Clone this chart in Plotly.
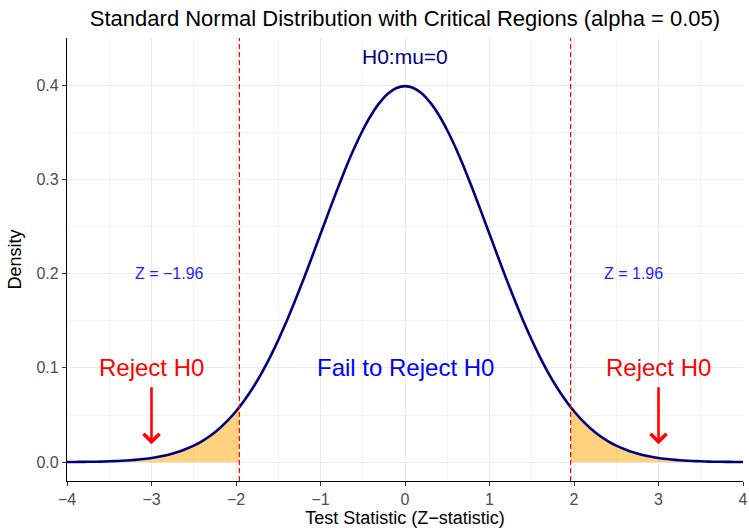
import plotly.graph_objects as go

# Density values of the curve
x_vals = [-4.0, -3.9, -3.8, -3.7, -3.6, -3.5, -3.4, -3.3, -3.2, -3.1, -3.0, -2.9, -2.8, -2.7,
          -2.6, -2.5, -2.4, -2.3, -2.2, -2.1, -2.0, -1.96, -1.9, -1.8, -1.7, -1.6, -1.5, -1.4,
          -1.3, -1.2, -1.1, -1.0, -0.9, -0.8, -0.7, -0.6, -0.5, -0.4, -0.3, -0.2, -0.1, 0.0,
          0.1, 0.2, 0.3, 0.4, 0.5, 0.6, 0.7, 0.8, 0.9, 1.0, 1.1, 1.2, 1.3, 1.4, 1.5, 1.6, 1.7,
          1.8, 1.9, 1.96, 2.0, 2.1, 2.2, 2.3, 2.4, 2.5, 2.6, 2.7, 2.8, 2.9, 3.0, 3.1, 3.2, 3.3,
          3.4, 3.5, 3.6, 3.7, 3.8, 3.9, 4.0]
dens = [0.0001, 0.0002, 0.0003, 0.0004, 0.0006, 0.0009, 0.0012, 0.0017, 0.0024, 0.0033,
        0.0044, 0.0060, 0.0079, 0.0104, 0.0136, 0.0175, 0.0224, 0.0283, 0.0355, 0.0440,
        0.0540, 0.0584, 0.0656, 0.0790, 0.0940, 0.1109, 0.1295, 0.1497, 0.1714, 0.1942,
        0.2179, 0.2420, 0.2661, 0.2897, 0.3123, 0.3332, 0.3521, 0.3683, 0.3814, 0.3910,
        0.3970, 0.3989,
        0.3970, 0.3910, 0.3814, 0.3683, 0.3521, 0.3332, 0.3123, 0.2897, 0.2661, 0.2420,
        0.2179, 0.1942, 0.1714, 0.1497, 0.1295, 0.1109, 0.0940, 0.0790, 0.0656, 0.0584,
        0.0540, 0.0440, 0.0355, 0.0283, 0.0224, 0.0175, 0.0136, 0.0104, 0.0079, 0.0060,
        0.0044, 0.0033, 0.0024, 0.0017, 0.0012, 0.0009, 0.0006, 0.0004, 0.0003, 0.0002,
        0.0001]
crit = 1.96
x_ticks = [-4, -3, -2, -1, 0, 1, 2, 3, 4]
x_tick_labels = ["\u22124", "\u22123", "\u22122", "\u22121", "0", "1", "2", "3", "4"]
y_ticks = [0.0, 0.1, 0.2, 0.3, 0.4]
y_tick_labels = ["0.0", "0.1", "0.2", "0.3", "0.4"]

FONT = "Liberation Sans, Arial, sans-serif"

left = [(x, d) for x, d in zip(x_vals, dens) if x <= -crit]
right = [(x, d) for x, d in zip(x_vals, dens) if x >= crit]

fig = go.Figure()
fill = "rgba(255,165,0,0.5)"
for part in (left, right):
    fig.add_trace(go.Scatter(x=[p[0] for p in part], y=[p[1] for p in part], mode="lines",
                             line=dict(width=0), fill="tozeroy",
                             fillcolor=fill, hoverinfo="skip", showlegend=False))
fig.add_trace(go.Scatter(x=x_vals, y=dens, mode="lines",
                         line=dict(color="#000080", width=2.6, shape="spline", smoothing=0.5),
                         showlegend=False))

for c in (-crit, crit):
    fig.add_shape(type="line", x0=c, x1=c, xref="x", y0=0, y1=1, yref="y domain",
                  line=dict(color="#FF0000", width=1.2, dash="5px,3px"))

def ann(x, y, text, color, size):
    fig.add_annotation(x=x, y=y, text=text, showarrow=False,
                       font=dict(color=color, size=size, family=FONT))

ann(0, 0.43, "H0:mu=0", "#000080", 21)
ann(-2.79, 0.2, "Z = \u22121.96", "#1F1FFF", 16)
ann(2.7, 0.2, "Z = 1.96", "#1F1FFF", 16)
ann(-3.0, 0.1, "Reject H0", "#FF0000", 24)
ann(3.0, 0.1, "Reject H0", "#FF0000", 24)
ann(0, 0.1, "Fail to Reject H0", "#0000FF", 24)

for ax in (-3, 3):
    fig.add_annotation(x=ax, y=0.019, ax=ax, ay=0.081, xref="x", yref="y", axref="x", ayref="y",
                       text="", showarrow=True, arrowhead=4, arrowsize=1.2, arrowwidth=2.6,
                       arrowcolor="#FF0000")

grid = "#EBEBEB"
fig.update_layout(
    width=749, height=530,
    margin=dict(l=67, r=6, t=38, b=49, autoexpand=False),
    plot_bgcolor="white", paper_bgcolor="white",
    font=dict(family=FONT),
    title=dict(text="Standard Normal Distribution with Critical Regions (alpha = 0.05)",
               x=0.5, xanchor="center", xref="paper", yref="container", y=1 - 18 / 530,
               yanchor="middle", font=dict(size=22, color="black", family=FONT)),
    xaxis=dict(range=[-4, 4], tickvals=x_ticks, ticktext=x_tick_labels, automargin=False,
               showgrid=True, gridcolor=grid, gridwidth=1, zeroline=False,
               showline=True, linecolor="black", linewidth=1.2,
               ticks="outside", ticklen=4, tickcolor="#333333", tickwidth=1.1,
               tickfont=dict(size=16, color="#4D4D4D"),
               minor=dict(dtick=0.5, tick0=0, showgrid=True, gridcolor="#F3F3F3", gridwidth=1),
               title=dict(text="Test Statistic (Z\u2212statistic)", standoff=2,
                          font=dict(size=18, color="black"))),
    yaxis=dict(range=[-0.02, 0.45], tickvals=y_ticks, ticktext=y_tick_labels, automargin=False,
               showgrid=True, gridcolor=grid, gridwidth=1, zeroline=False,
               showline=True, linecolor="black", linewidth=1.2,
               ticks="outside", ticklen=4, tickcolor="#333333", tickwidth=1.1,
               tickfont=dict(size=16, color="#4D4D4D"),
               minor=dict(dtick=0.05, tick0=0, showgrid=True, gridcolor="#F3F3F3", gridwidth=1),
               title=dict(text="Density", standoff=10, font=dict(size=18, color="black"))),
)

fig.write_html("out.html", config={"displayModeBar": False},
               post_script="document.body.style.margin='0';")
